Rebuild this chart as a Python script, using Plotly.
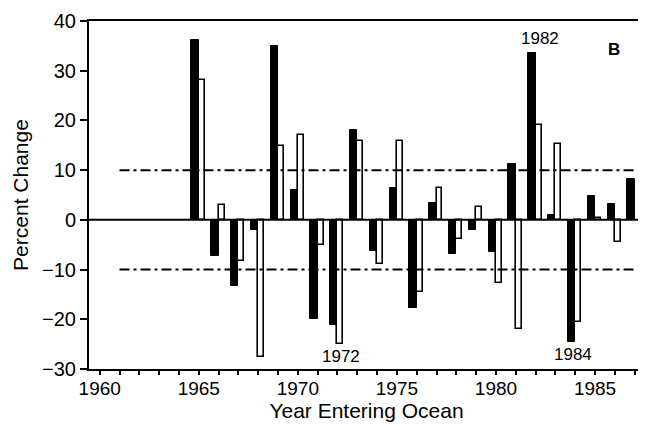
import plotly.graph_objects as go

years = list(range(1965, 1988))
black_vals = [36.1, -7.3, -13.3, -2.0, 34.9, 6.0, -20.0, -21.2, 18.0, -6.3, 6.5, -17.7,
              3.3, -6.9, -2.0, -6.5, 11.3, 33.5, 0.9, -24.5, 4.9, 3.1, 8.3]
white_vals = [28.2, 2.9, -8.2, -27.5, 14.9, 17.0, -5.1, -24.9, 15.9, -8.8, 15.9, -14.5,
              6.5, -3.9, 2.5, -12.7, -21.9, 19.1, 15.3, -20.5, 0.3, -4.5, None]

threshold_x = [1961, 1987.1]
upper_threshold = [10, 10]
lower_threshold = [-10, -10]

tick_years = list(range(1960, 1988))
tick_text = [str(y) if y % 5 == 0 else "" for y in tick_years]
y_ticks = [-30, -20, -10, 0, 10, 20, 30, 40]

labels = [("1982", 1982.2, 36.5), ("1972", 1972.2, -27.4), ("1984", 1983.9, -27.0)]

FONT = "Liberation Sans, Arial, sans-serif"

fig = go.Figure()

fig.add_trace(go.Bar(x=years, y=black_vals, width=0.37, offset=-0.37,
                     marker=dict(color="black", line=dict(color="black", width=1)),
                     showlegend=False))
fig.add_trace(go.Bar(x=years, y=white_vals, width=0.3, offset=0.0,
                     marker=dict(color="white", line=dict(color="black", width=1.6)),
                     showlegend=False))

for th in (upper_threshold, lower_threshold):
    fig.add_trace(go.Scatter(x=threshold_x, y=th, mode="lines",
                             line=dict(color="black", width=2, dash="10px,4px,3px,4px"),
                             showlegend=False, hoverinfo="skip"))

# zero line
fig.add_trace(go.Scatter(x=[1959.46, 1987.47], y=[0, 0], mode="lines",
                         line=dict(color="black", width=2), showlegend=False, hoverinfo="skip"))

for txt, xv, yv in labels:
    fig.add_annotation(x=xv, y=yv, text=txt, showarrow=False,
                       font=dict(family=FONT, size=17, color="black"))
fig.add_annotation(x=1985.95, y=34.3, text="<b>B</b>", showarrow=False,
                   font=dict(family=FONT, size=17, color="black"))

# page body has an 8px default margin, so the figure is offset by 8px
fig.update_layout(
    width=638, height=422,
    margin=dict(l=81, r=2, t=13, b=61),
    paper_bgcolor="white", plot_bgcolor="white",
    font=dict(family=FONT, color="black"),
    bargap=0,
)
fig.update_xaxes(range=[1959.46, 1987.47], tickvals=tick_years, ticktext=tick_text,
                 ticks="outside", ticklen=4, tickwidth=1.5, tickcolor="black",
                 showline=True, linecolor="black", linewidth=2, mirror=True,
                 showgrid=False, zeroline=False, automargin=False,
                 ticklabelstandoff=-3,
                 tickfont=dict(family=FONT, size=19),
                 title=dict(text="Year Entering Ocean", font=dict(family=FONT, size=21), standoff=0))
fig.update_yaxes(range=[-30, 40], tickvals=y_ticks,
                 ticks="outside", ticklen=7, tickwidth=1.5, tickcolor="black",
                 showline=True, linecolor="black", linewidth=2, mirror=True,
                 showgrid=False, zeroline=False, automargin=False,
                 tickfont=dict(family=FONT, size=20),
                 title=dict(text="Percent Change", font=dict(family=FONT, size=21), standoff=8))

fig.write_html("out.html")
